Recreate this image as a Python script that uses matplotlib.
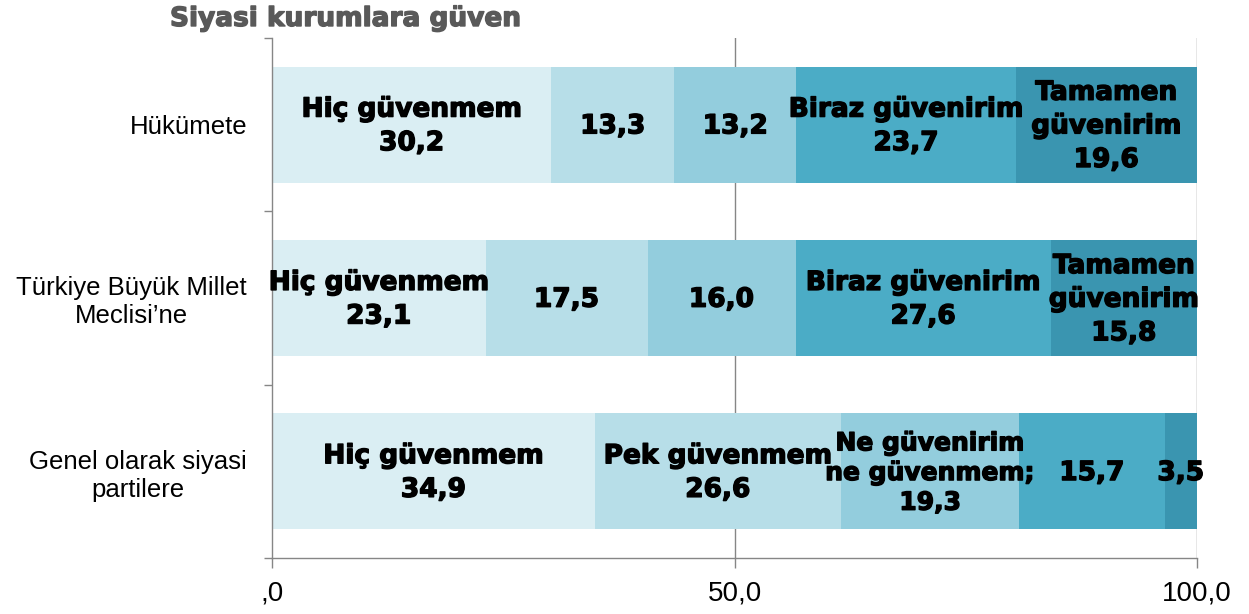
import matplotlib
matplotlib.use("Agg")
import matplotlib.pyplot as plt
import matplotlib.patheffects as pe
import numpy as np

categories = ["Hükümete", "Türkiye Büyük Millet\nMeclisi’ne", "Genel olarak siyasi\npartilere"]
hukumete = [30.2, 13.3, 13.2, 23.7, 19.6]
tbmm = [23.1, 17.5, 16.0, 27.6, 15.8]
partiler = [34.9, 26.6, 19.3, 15.7, 3.5]
series = [hukumete, tbmm, partiler]

# Segment captions shown inside bars (None = value only)
captions = [
    ["Hiç güvenmem", None, None, "Biraz güvenirim", "Tamamen\ngüvenirim"],
    ["Hiç güvenmem", None, None, "Biraz güvenirim", "Tamamen\ngüvenirim"],
    ["Hiç güvenmem", "Pek güvenmem", "Ne güvenirim\nne güvenmem;", None, None],
]
xticks = [0, 50, 100]
xticklabels = [",0", "50,0", "100,0"]
title = "Siyasi kurumlara güven"

colors = ["#DAEEF3", "#B7DEE8", "#93CDDD", "#4BACC6", "#3A95B0"]
heavy = ["DejaVu Sans"]
thick = [pe.withStroke(linewidth=1.0, foreground="black")]

fig = plt.figure(figsize=(12.49, 6.14), dpi=100)
ax = fig.add_axes([272/1249, 1-558/614, (1197-272)/1249, (558-38)/614])

ypos = np.arange(len(categories))
for i, vals in enumerate(series):
    left = 0.0
    for j, v in enumerate(vals):
        ax.barh(ypos[i], v, left=left, height=0.67, color=colors[j], zorder=2, linewidth=0)
        cap = captions[i][j]
        txt = f"{v:.1f}".replace(".", ",")
        if cap:
            txt = cap + "\n" + txt
        wrapped = bool(cap and "\n" in cap and not cap.startswith("Tamamen"))
        ls = 1.3 if wrapped else 1.38
        fs = 18 if wrapped else 19
        ax.text(left + v/2, ypos[i] + 0.01, txt, ha="center", va="center", fontsize=fs,
                fontweight="bold", family=heavy, linespacing=ls,
                zorder=3, color="black", path_effects=thick)
        left += v

ax.set_xlim(0, 100)
ax.set_ylim(len(categories)-0.5, -0.5)
ax.set_xticks(xticks)
ax.set_xticklabels(xticklabels, fontsize=20, family=["Liberation Sans"])
ax.tick_params(axis="x", length=7, color="#868686", width=1, pad=9)
ax.set_yticks(np.arange(-0.5, len(categories), 1.0))
ax.set_yticklabels([])
ax.set_yticks(ypos, minor=True)
ax.set_yticklabels(categories, minor=True, fontsize=18.5, family=["Liberation Sans"],
                   ha="right", multialignment="center")
ax.tick_params(axis="y", which="major", length=6, color="#868686", width=1)
ax.tick_params(axis="y", which="minor", length=0, pad=18)

for x in [50, 100]:
    ax.axvline(x, color="#868686", linewidth=1, zorder=1)

for s in ["top", "right"]:
    ax.spines[s].set_visible(False)
for s in ["left", "bottom"]:
    ax.spines[s].set_color("#868686")
    ax.spines[s].set_linewidth(1)

fig.text(170/1249, 1-19/614, title, fontsize=19, fontweight="bold", color="#595959",
         ha="left", va="center", family=heavy,
         path_effects=[pe.withStroke(linewidth=1.0, foreground="#595959")])

fig.savefig("out.png", dpi=100)
